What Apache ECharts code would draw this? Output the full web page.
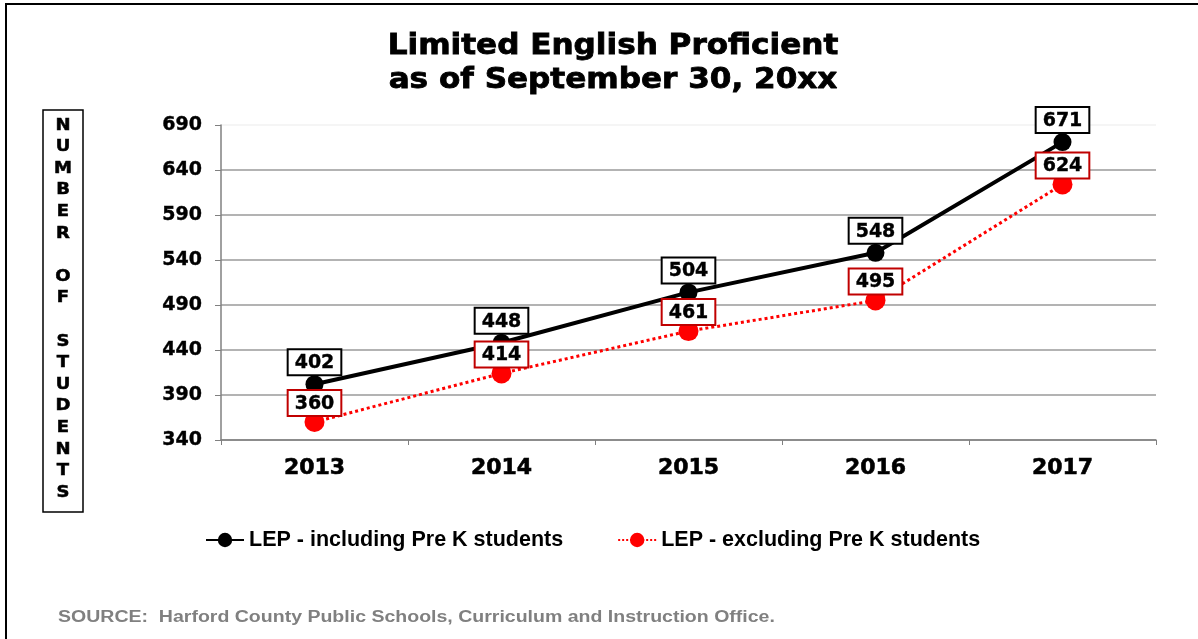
<!DOCTYPE html>
<html>
<head>
<meta charset="utf-8">
<script src="https://cdn.jsdelivr.net/npm/echarts@6/dist/echarts.min.js"></script>
<style>
  html, body { margin: 0; padding: 0; background: #fff; }
  #main { width: 1198px; height: 639px; }
</style>
</head>
<body>
<div id="main"></div>
<script>
var years = ['2013', '2014', '2015', '2016', '2017'];
var withPreK = [402, 448, 504, 548, 671];
var withoutPreK = [360, 414, 461, 495, 624];
var yTicks = { min: 340, max: 690, step: 50 };
var seriesNames = ['LEP - including Pre K students', 'LEP - excluding Pre K students'];
var titleLines = ['Limited English Proficient', 'as of September 30, 20xx'];

var numFont = 'DejaVu Sans';
var myChart = echarts.init(document.getElementById('main'));

// vertical axis title, one letter per row
var yName = 'NUMBER OF STUDENTS'.split('').join('\n');

// title lines are drawn as graphic text so they can be stretched like the original
function titleText(str, y) {
    return {
        type: 'text',
        x: 613,
        y: y,
        scaleX: 1.11,
        style: {
            text: str,
            fontFamily: numFont,
            fontWeight: 'bold',
            fontSize: 28,
            align: 'center',
            verticalAlign: 'middle',
            fill: '#000',
            stroke: '#000',
            lineWidth: 0.8
        },
        silent: true
    };
}

var option = {
    backgroundColor: '#fff',
    animation: false,
    graphic: [
        {
            type: 'rect',
            shape: { x: 6, y: 4, width: 1300, height: 700 },
            style: { fill: 'none', stroke: '#000', lineWidth: 2 },
            silent: true
        },
        titleText(titleLines[0], 47),
        titleText(titleLines[1], 81),
        {
            type: 'rect',
            shape: { x: 43, y: 110, width: 40, height: 402 },
            style: { fill: '#fff', stroke: '#000', lineWidth: 1.5 },
            silent: true
        },
        {
            type: 'text',
            x: 63,
            y: 115,
            scaleX: 1.2,
            style: {
                text: yName,
                fontFamily: numFont,
                fontWeight: 'bold',
                fontSize: 15,
                lineHeight: 21.6,
                align: 'center',
                fill: '#000',
                stroke: '#000',
                lineWidth: 0.5
            },
            silent: true
        },
        {
            type: 'text',
            x: 58,
            y: 618,
            scaleX: 1.22,
            style: {
                text: 'SOURCE:  Harford County Public Schools, Curriculum and Instruction Office.',
                fontFamily: 'Liberation Sans',
                fontWeight: 'bold',
                fontSize: 16,
                verticalAlign: 'middle',
                fill: '#808080'
            },
            silent: true
        }
    ],
    legend: {
        top: 524,
        left: 200,
        itemGap: 54,
        itemWidth: 38,
        itemHeight: 18,
        data: seriesNames,
        textStyle: {
            fontFamily: 'Liberation Sans',
            fontWeight: 'bold',
            fontSize: 21.5,
            color: '#000'
        }
    },
    grid: {
        left: 221,
        right: 42,
        top: 125,
        bottom: 199
    },
    xAxis: {
        type: 'category',
        data: years,
        boundaryGap: true,
        axisLine: { lineStyle: { color: '#808080', width: 1.5 } },
        axisTick: { show: true, length: 5, lineStyle: { color: '#808080' } },
        axisLabel: {
            margin: 17,
            fontFamily: numFont,
            fontWeight: 'bold',
            fontSize: 22,
            color: '#000',
            textBorderColor: '#000',
            textBorderWidth: 0.6
        }
    },
    yAxis: {
        type: 'value',
        min: yTicks.min,
        max: yTicks.max,
        interval: yTicks.step,
        axisLine: { show: true, lineStyle: { color: '#808080', width: 1.5 } },
        axisTick: { show: true, length: 6, lineStyle: { color: '#808080' } },
        axisLabel: {
            margin: 19,
            fontFamily: numFont,
            fontWeight: 'bold',
            fontSize: 19,
            color: '#000',
            textBorderColor: '#000',
            textBorderWidth: 0.4
        },
        splitLine: {
            show: true,
            lineStyle: {
                color: ['#9a9a9a', '#9a9a9a', '#9a9a9a', '#9a9a9a', '#9a9a9a', '#9a9a9a', '#9a9a9a', '#f2f2f2'],
                width: 1.5
            }
        }
    },
    series: [
        {
            name: seriesNames[0],
            type: 'line',
            data: withPreK,
            symbol: 'circle',
            symbolSize: 18,
            z: 3,
            itemStyle: { color: '#000' },
            lineStyle: { color: '#000', width: 4 },
            label: {
                show: true,
                position: 'top',
                distance: 1,
                fontFamily: numFont,
                fontWeight: 'bold',
                fontSize: 19,
                lineHeight: 20,
                color: '#000',
                textBorderColor: '#000',
                textBorderWidth: 0.4,
                backgroundColor: '#fff',
                borderColor: '#000',
                borderWidth: 2,
                padding: [3, 6, 1, 6]
            }
        },
        {
            name: seriesNames[1],
            type: 'line',
            data: withoutPreK,
            symbol: 'circle',
            symbolSize: 20,
            z: 4,
            itemStyle: { color: '#ff0000' },
            lineStyle: { color: '#ff0000', width: 3, type: 'dotted' },
            label: {
                show: true,
                position: 'top',
                distance: -3,
                fontFamily: numFont,
                fontWeight: 'bold',
                fontSize: 19,
                lineHeight: 20,
                color: '#000',
                textBorderColor: '#000',
                textBorderWidth: 0.4,
                backgroundColor: '#fff',
                borderColor: '#c00000',
                borderWidth: 2,
                padding: [3, 6, 1, 6]
            }
        }
    ]
};

myChart.setOption(option);
</script>
</body>
</html>
